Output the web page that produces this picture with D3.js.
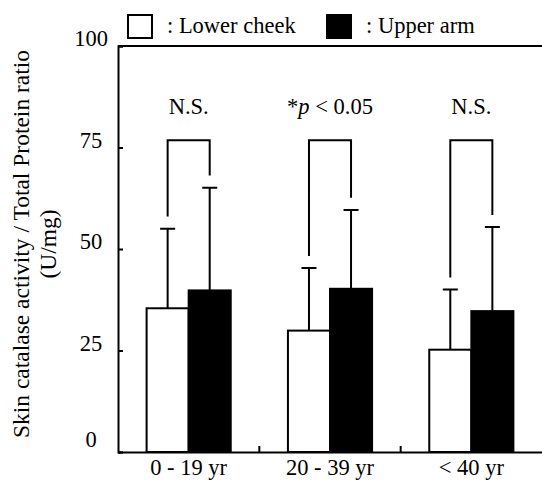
<!DOCTYPE html>
<html>
<head>
<meta charset="utf-8">
<script src="https://cdn.jsdelivr.net/npm/d3@7"></script>
<style>
  body { margin: 0; background: #fff; }
  text { font-family: "Liberation Serif", "Times New Roman", serif; font-size: 22.5px; fill: #000; }
</style>
</head>
<body>
<div id="chart"></div>
<script>
// data
var groups = ["0 - 19 yr", "20 - 39 yr", "< 40 yr"];
var series = ["Lower cheek", "Upper arm"];
var lowerMean = [35.4, 29.9, 25.2];
var lowerSD   = [19.6, 15.4, 14.8];
var upperMean = [39.8, 40.2, 34.7];
var upperSD   = [25.3, 19.4, 20.7];
var signif    = ["N.S.", "*p < 0.05", "N.S."];
var yTicks    = [0, 25, 50, 75, 100];

var width = 542, height = 481;
var mLeft = 118, mRight = 542, mTop = 46, mBottom = 452;
var fontSize = "22.5px";

var svg = d3.select("#chart").append("svg")
    .attr("width", width)
    .attr("height", height);

var x0 = d3.scaleBand()
    .domain(groups)
    .range([mLeft, mRight]);

var x1 = d3.scaleBand()
    .domain(series)
    .range([0, x0.bandwidth()])
    .paddingInner(0)
    .paddingOuter(0.68);

var y = d3.scaleLinear()
    .domain([0, 100])
    .range([mBottom, mTop]);

var color = d3.scaleOrdinal().domain(series).range(["#fff", "#000"]);

var rows = groups.map(function(g, i) {
  return {
    group: g,
    sig: signif[i],
    vals: [
      { key: series[0], mean: lowerMean[i], sd: lowerSD[i] },
      { key: series[1], mean: upperMean[i], sd: upperSD[i] }
    ]
  };
});

// frame top
svg.append("line")
    .attr("x1", mLeft).attr("x2", mRight)
    .attr("y1", y(100)).attr("y2", y(100))
    .attr("stroke", "#000").attr("stroke-width", 2);

// bars
var g = svg.append("g").selectAll("g")
    .data(rows)
    .enter().append("g")
    .attr("transform", function(d) { return "translate(" + x0(d.group) + ",0)"; });

g.selectAll("rect")
    .data(function(d) { return d.vals; })
    .enter().append("rect")
    .attr("x", function(d) { return x1(d.key); })
    .attr("y", function(d) { return y(d.mean); })
    .attr("width", x1.bandwidth())
    .attr("height", function(d) { return y(0) - y(d.mean); })
    .attr("fill", function(d) { return color(d.key); })
    .attr("stroke", "#000")
    .attr("stroke-width", 2);

// error bars (upward only)
var cap = 7.5;
g.selectAll("path.err")
    .data(function(d) { return d.vals; })
    .enter().append("path")
    .attr("class", "err")
    .attr("fill", "none")
    .attr("stroke", "#000")
    .attr("stroke-width", 2)
    .attr("d", function(d) {
      var cx = x1(d.key) + x1.bandwidth() / 2;
      return "M" + cx + "," + y(d.mean) + "V" + y(d.mean + d.sd) +
             "M" + (cx - cap) + "," + y(d.mean + d.sd) + "H" + (cx + cap);
    });

// significance brackets
var bracketTop = 76.8, bracketGap = 3;
g.append("path")
    .attr("fill", "none")
    .attr("stroke", "#000")
    .attr("stroke-width", 2)
    .attr("d", function(d) {
      var a = d.vals[0], b = d.vals[1];
      var xa = x1(a.key) + x1.bandwidth() / 2, xb = x1(b.key) + x1.bandwidth() / 2;
      return "M" + xa + "," + y(a.mean + a.sd + bracketGap) +
             "V" + y(bracketTop) + "H" + xb +
             "V" + y(b.mean + b.sd + bracketGap);
    });

var lab = g.append("text")
    .attr("x", x0.bandwidth() / 2)
    .attr("y", y(83.2))
    .attr("text-anchor", "middle");
lab.each(function(d) {
  var t = d3.select(this);
  if (d.sig.indexOf("p") >= 0) {
    t.append("tspan").text("*");
    t.append("tspan").attr("font-style", "italic").text("p");
    t.append("tspan").text(" < 0.05");
  } else {
    t.text(d.sig);
  }
});

// y axis
var yAxis = svg.append("g")
    .attr("transform", "translate(" + mLeft + ",0)")
    .call(d3.axisLeft(y).tickValues(yTicks).tickSize(-5).tickPadding(27));
yAxis.select(".domain").attr("stroke-width", 2);
yAxis.selectAll(".tick line").attr("stroke-width", 2);
yAxis.selectAll(".tick text")
    .attr("text-anchor", "middle")
    .attr("dy", function(d) { return d === 0 ? "-0.25em" : "-0.02em"; })
    .style("font-size", fontSize)
    .style("font-family", "Liberation Serif, Times New Roman, serif");

// x axis
var xAxis = svg.append("g")
    .attr("transform", "translate(0," + mBottom + ")")
    .call(d3.axisBottom(x0).tickSize(0).tickPadding(7));
xAxis.select(".domain").attr("stroke-width", 2);
xAxis.selectAll(".tick text")
    .style("font-size", fontSize)
    .style("font-family", "Liberation Serif, Times New Roman, serif");

// separators between groups
svg.append("g").selectAll("line")
    .data(groups.slice(1))
    .enter().append("line")
    .attr("x1", function(d) { return x0(d); })
    .attr("x2", function(d) { return x0(d); })
    .attr("y1", mBottom)
    .attr("y2", mBottom - 6)
    .attr("stroke", "#000")
    .attr("stroke-width", 2);

// y label
var yl = svg.append("text")
    .attr("transform", "translate(29,244) rotate(-90)")
    .attr("text-anchor", "middle")
    .style("font-size", "23.5px");
yl.append("tspan").attr("x", 0).attr("dy", 0).text("Skin catalase activity / Total Protein ratio");
yl.append("tspan").attr("x", 0).attr("dy", 27).text("(U/mg)");

// legend
var legX = [127, 326];
var leg = svg.append("g").selectAll("g")
    .data(series)
    .enter().append("g")
    .attr("transform", function(d, i) { return "translate(" + legX[i] + ",14)"; });
leg.append("rect")
    .attr("x", 1).attr("y", 1)
    .attr("width", 24).attr("height", 23)
    .attr("fill", function(d) { return color(d); })
    .attr("stroke", "#000")
    .attr("stroke-width", 2);
leg.append("text")
    .attr("x", 40)
    .attr("y", 19)
    .text(function(d) { return ": " + d; });
</script>
</body>
</html>
